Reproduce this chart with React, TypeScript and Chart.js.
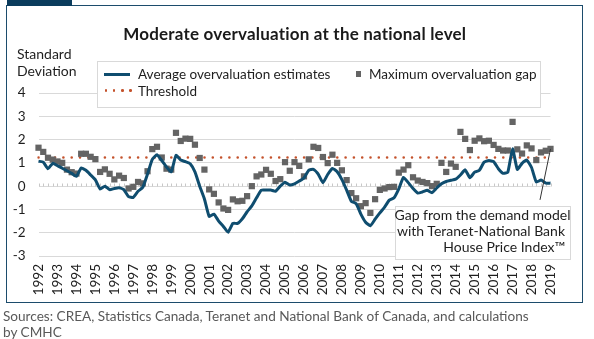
import React, { useEffect, useRef } from "react";
import { Chart, registerables } from "chart.js";

Chart.register(...registerables);

// ---------- data ----------
const years = [
  1992, 1993, 1994, 1995, 1996, 1997, 1998, 1999, 2000, 2001, 2002, 2003, 2004, 2005,
  2006, 2007, 2008, 2009, 2010, 2011, 2012, 2013, 2014, 2015, 2016, 2017, 2018, 2019,
];
const quarterNames = ["Q1", "Q2", "Q3", "Q4"];
// quarterly categories 1992Q1 .. 2019Q1
const categories: string[] = [];
years.forEach((yr) => {
  quarterNames.forEach((q) => {
    if (yr === 2019 && q !== "Q1") return;
    categories.push(`${yr}${q}`);
  });
});

const averageOvervaluation = [
  1.07, 1.03, 0.75, 0.98, 0.88, 0.77, 0.66, 0.55, 0.42, 0.78, 0.68, 0.48, 0.27, -0.12, 0.0, -0.15,
  -0.1, -0.07, -0.15, -0.45, -0.48, -0.22, -0.05, 0.52, 1.15, 1.35, 1.1, 0.82, 0.62, 1.32, 1.12, 1.05,
  0.96, 0.61, 0.0, -0.55, -1.3, -1.2, -1.5, -1.73, -1.98, -1.6, -1.6, -1.4, -1.1, -0.85, -0.5, -0.17,
  -0.17, -0.17, -0.22, 0.0, 0.17, 0.05, 0.1, 0.22, 0.35, 0.68, 0.72, 0.52, 0.15, 0.5, 0.76, 0.62,
  0.28, -0.17, -0.65, -0.75, -1.2, -1.55, -1.7, -1.42, -1.15, -0.9, -0.6, -0.5, -0.12, 0.38, 0.15, -0.1,
  -0.3, -0.25, -0.18, -0.28, -0.08, 0.1, 0.2, 0.25, 0.3, 0.48, 0.7, 0.36, 0.6, 0.68, 1.03, 1.1,
  1.05, 0.75, 0.55, 0.6, 1.6, 0.72, 0.98, 1.12, 0.8, 0.18, 0.26, 0.13, 0.13,
];

const maximumOvervaluationGap = [
  1.65, 1.47, 1.22, 1.14, 1.06, 1.0, 0.71, 0.6, 0.54, 1.39, 1.39, 1.26, 1.16, 0.61, 0.72, 0.53,
  0.29, 0.45, 0.35, -0.1, -0.03, 0.18, 0.12, 0.64, 1.59, 1.69, 1.23, 0.75, 0.71, 2.29, 1.94, 2.04,
  2.03, 1.78, 1.21, 0.71, -0.14, -0.33, -0.7, -0.96, -1.02, -0.57, -0.65, -0.63, -0.43, 0.0, 0.42, 0.5,
  0.7, 0.53, 0.22, 0.3, 1.03, 0.66, 1.03, 0.87, 0.42, 1.15, 1.69, 1.64, 1.25, 0.99, 1.35, 1.0,
  0.68, 0.26, -0.3, -0.52, -0.86, -0.73, -1.15, -0.56, -0.16, -0.1, -0.04, -0.03, 0.58, 0.71, 0.9, 0.38,
  0.24, 0.18, 0.13, 0.0, 0.1, 1.0, 0.61, 0.97, 0.83, 2.33, 2.03, 1.55, 1.95, 2.05, 1.93, 1.95,
  1.77, 1.6, 1.53, 1.53, 2.76, 1.58, 1.4, 1.75, 1.62, 1.12, 1.45, 1.52, 1.6,
];

const thresholdValue = 1.23;
const yMin = -3;
const yMax = 4;

// ---------- styles ----------
const FONT = "Lato, 'Open Sans', sans-serif";
const LINE_COLOR = "#0f4d6f";
const GAP_COLOR = "#646464";
const THRESH_COLOR = "#c4522c";
const FRAME_COLOR = "#1c4c6c";
const TEXT_COLOR = "#1e1e1e";

const zeroLineTicks = {
  id: "zeroLineTicks",
  beforeDatasetsDraw(chart: any) {
    const { ctx, scales } = chart;
    const x = scales.x;
    const y = scales.y;
    const y0 = Math.round(y.getPixelForValue(0)) + 0.5;
    ctx.save();
    ctx.strokeStyle = "#c8c8c8";
    ctx.lineWidth = 1;
    for (let i = 0; i < categories.length; i++) {
      const px = Math.round(x.getPixelForValue(i)) + 0.5;
      ctx.beginPath();
      ctx.moveTo(px, y0 - 3);
      ctx.lineTo(px, y0);
      ctx.stroke();
    }
    ctx.restore();
  },
};

const calloutLeader = {
  id: "calloutLeader",
  afterDraw(chart: any) {
    const { ctx, scales } = chart;
    const last = categories.length - 1;
    const px = scales.x.getPixelForValue(last);
    const py = scales.y.getPixelForValue(maximumOvervaluationGap[last]);
    ctx.save();
    ctx.strokeStyle = "#333";
    ctx.lineWidth = 1;
    ctx.beginPath();
    ctx.moveTo(px, py);
    ctx.lineTo(px - 10.5, py + 51);
    ctx.stroke();
    ctx.restore();
  },
};

export default function App() {
  const canvasRef = useRef<HTMLCanvasElement | null>(null);

  useEffect(() => {
    if (!canvasRef.current) return;
    const chart = new Chart(canvasRef.current, {
      type: "line",
      data: {
        labels: categories,
        datasets: [
          {
            label: "Average overvaluation estimates",
            data: averageOvervaluation,
            borderColor: LINE_COLOR,
            borderWidth: 3,
            pointRadius: 0,
            tension: 0.15,
            borderJoinStyle: "round",
            fill: false,
            clip: false,
          },
          {
            label: "Maximum overvaluation gap",
            data: maximumOvervaluationGap,
            showLine: false,
            pointStyle: "rect",
            pointRadius: 4.4,
            pointBackgroundColor: GAP_COLOR,
            pointBorderWidth: 0,
            borderColor: GAP_COLOR,
            backgroundColor: GAP_COLOR,
            clip: false,
          },
          {
            label: "Threshold",
            data: categories.map(() => thresholdValue),
            borderColor: THRESH_COLOR,
            borderWidth: 2.6,
            borderDash: [0, 8.3],
            borderCapStyle: "round",
            pointRadius: 0,
            fill: false,
          },
        ],
      },
      options: {
        animation: false,
        responsive: false,
        maintainAspectRatio: false,
        devicePixelRatio: 1,
        layout: { padding: { left: 0, right: 43.5, top: 93, bottom: 30 } },
        plugins: {
          legend: { display: false },
          title: { display: false },
          tooltip: { enabled: false },
        },
        scales: {
          x: {
            type: "category",
            offset: false,
            grid: { display: false, drawTicks: false },
            border: { display: false },
            afterFit: (scale: any) => {
              scale.height = 53;
            },
            ticks: {
              autoSkip: false,
              minRotation: 90,
              maxRotation: 90,
              padding: 8,
              color: TEXT_COLOR,
              font: { family: FONT, size: 13.5 },
              callback: (_v: any, idx: number) =>
                categories[idx].endsWith("Q1") ? categories[idx].slice(0, 4) : "",
            },
          },
          y: {
            min: yMin,
            max: yMax,
            grid: { color: "#d9d9d9", lineWidth: 1, drawTicks: false },
            border: { display: false },
            afterFit: (scale: any) => {
              scale.width = 38.5;
            },
            ticks: {
              stepSize: 1,
              padding: 13,
              color: TEXT_COLOR,
              font: { family: FONT, size: 13.5 },
            },
          },
        },
      },
      plugins: [zeroLineTicks, calloutLeader],
    } as any);
    return () => chart.destroy();
  }, []);

  const abs = (s: React.CSSProperties): React.CSSProperties => ({
    position: "absolute",
    whiteSpace: "nowrap",
    ...s,
  });

  return (
    <div
      style={{
        position: "fixed",
        left: 0,
        top: 0,
        width: 594,
        height: 339,
        background: "#fff",
        fontFamily: FONT,
        color: TEXT_COLOR,
        overflow: "hidden",
      }}
    >
      {/* frame */}
      <div
        style={abs({
          left: 6,
          top: 4.5,
          width: 576.5,
          height: 298.5,
          border: `1.5px solid ${FRAME_COLOR}`,
          boxSizing: "border-box",
        })}
      />
      <div style={abs({ left: 6.5, top: 0, width: 65.5, height: 5.5, background: "#0b3c5d" })} />

      <canvas
        ref={canvasRef}
        width={594}
        height={339}
        style={{ position: "absolute", left: 0, top: 0, width: 594, height: 339 }}
      />

      {/* title */}
      <div
        style={abs({
          left: 0,
          width: 589.5,
          top: 23.5,
          textAlign: "center",
          fontWeight: 700,
          fontSize: 17,
          letterSpacing: "0.2px",
          lineHeight: "19px",
          color: "#1a1a1a",
        })}
      >
        Moderate overvaluation at the national level
      </div>

      {/* y axis title */}
      <div style={abs({ left: 17, top: 46, fontSize: 14, lineHeight: "16px" })}>Standard</div>
      <div style={abs({ left: 17, top: 63, fontSize: 14, lineHeight: "16px" })}>Deviation</div>

      {/* legend */}
      <div
        style={abs({
          left: 96.5,
          top: 60.5,
          width: 444,
          height: 47,
          border: "1px solid #d9d9d9",
          background: "#fff",
          boxSizing: "border-box",
        })}
      />
      <div style={abs({ left: 104, top: 72.5, width: 26, height: 3, background: LINE_COLOR })} />
      <div style={abs({ left: 138, top: 66, fontSize: 13.5, lineHeight: "16px" })}>
        Average overvaluation estimates
      </div>
      <div style={abs({ left: 355.5, top: 71, width: 5.5, height: 5.5, background: GAP_COLOR })} />
      <div style={abs({ left: 369, top: 66, fontSize: 13.5, lineHeight: "16px" })}>
        Maximum overvaluation gap
      </div>
      {[0, 1, 2, 3].map((k) => (
        <div
          key={k}
          style={abs({
            left: 104.5 + k * 8.3,
            top: 89.3,
            width: 2.6,
            height: 2.6,
            borderRadius: "50%",
            background: THRESH_COLOR,
          })}
        />
      ))}
      <div style={abs({ left: 138, top: 82.5, fontSize: 13.5, lineHeight: "16px" })}>Threshold</div>

      {/* callout */}
      <div
        style={abs({
          left: 394.5,
          top: 205.5,
          width: 176,
          height: 54,
          border: "1px solid #d9d9d9",
          background: "#fff",
          boxSizing: "border-box",
        })}
      />
      <div
        style={abs({
          left: 394.5,
          width: 170.5,
          top: 207,
          textAlign: "right",
          fontSize: 14,
          lineHeight: "16px",
        })}
      >
        Gap from the demand model
        <br />
        with Teranet-National Bank
        <br />
        House Price Index™
      </div>

      {/* source */}
      <div style={abs({ left: 3, top: 308, fontSize: 13.6, lineHeight: "16px", color: "#595959" })}>
        Sources: CREA, Statistics Canada, Teranet and National Bank of Canada, and calculations
        <br />
        by CMHC
      </div>
    </div>
  );
}
